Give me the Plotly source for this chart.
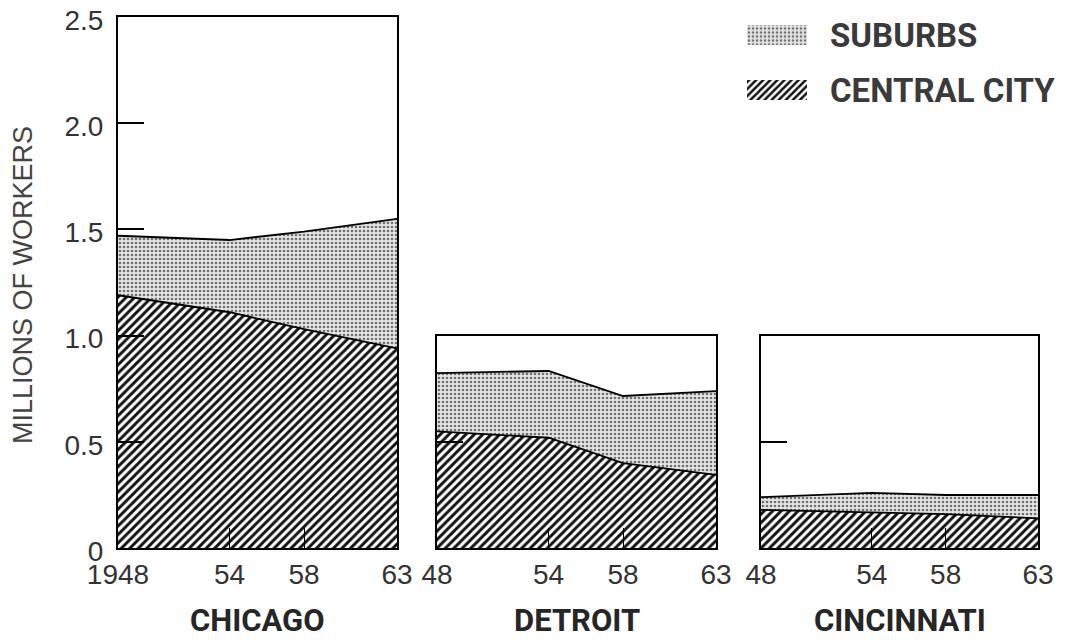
import plotly.graph_objects as go

years = [1948, 1954, 1958, 1963]
chicago_central = [1.19, 1.11, 1.03, 0.94]
chicago_suburbs = [0.28, 0.34, 0.46, 0.61]
detroit_central = [0.55, 0.52, 0.40, 0.345]
detroit_suburbs = [0.275, 0.315, 0.317, 0.395]
cincinnati_central = [0.18, 0.17, 0.16, 0.14]
cincinnati_suburbs = [0.06, 0.09, 0.09, 0.11]

cities = ["CHICAGO", "DETROIT", "CINCINNATI"]
year_ticktext_first = ["1948", "54", "58", "63"]
year_ticktext_other = ["48", "54", "58", "63"]
y_tickvals = [0, 0.5, 1.0, 1.5, 2.0, 2.5]
y_ticktext = ["0", "0.5", "1.0", "1.5", "2.0", "2.5"]
legend_labels = ["SUBURBS", "CENTRAL CITY"]

W, H = 1070, 640
OFF = 8  # page body margin
INK = "#262626"
NUM_FONT = dict(family="Liberation Sans, Arial, sans-serif", size=28, color="#333333")
BOLD_FONT = "Roboto, Liberation Sans, sans-serif"

hatch = dict(shape="/", fgcolor="#111111", bgcolor="white", size=6, solidity=0.48)
stipple = dict(shape=".", fgcolor="#707070", bgcolor="#e6e6e6", size=4, solidity=0.35)

def px_x(a, b):
    return [(a - OFF) / W, (b - OFF) / W]

def px_y(top, bottom):
    return [1 - (bottom - OFF) / H, 1 - (top - OFF) / H]

panels = [
    (chicago_central, chicago_suburbs, px_x(118, 397), px_y(17, 548), 2.5),
    (detroit_central, detroit_suburbs, px_x(437, 716), px_y(336, 548), 1.0),
    (cincinnati_central, cincinnati_suburbs, px_x(761, 1038), px_y(336, 548), 1.0),
]

fig = go.Figure()
layout = {}
for i, (central, suburbs, xd, yd, ymax) in enumerate(panels):
    n = "" if i == 0 else str(i + 1)
    xa, ya = "x" + n, "y" + n
    fig.add_trace(go.Scatter(
        x=years, y=central, xaxis=xa, yaxis=ya, mode="lines",
        stackgroup="s" + str(i), line=dict(color="black", width=1.8),
        fillpattern=hatch, fillcolor="white", showlegend=False, name="CENTRAL CITY"))
    fig.add_trace(go.Scatter(
        x=years, y=suburbs, xaxis=xa, yaxis=ya, mode="lines",
        stackgroup="s" + str(i), line=dict(color="black", width=1.8),
        fillpattern=stipple, fillcolor="#e6e6e6", showlegend=False, name="SUBURBS"))
    layout["xaxis" + n] = dict(
        domain=xd, range=[1948, 1963], anchor=ya, automargin=False,
        tickvals=years,
        ticktext=year_ticktext_first if i == 0 else year_ticktext_other,
        ticks="inside", ticklen=20, tickwidth=1.3, tickcolor="black",
        showline=True, mirror=True, linecolor="black", linewidth=2,
        showgrid=False, zeroline=False, tickfont=NUM_FONT, ticklabelstandoff=0,
        ticklabeloverflow="allow")
    if i == 0:
        yticks = dict(tickvals=y_tickvals, ticktext=y_ticktext, showticklabels=True)
    else:
        yticks = dict(tickvals=[0.5], showticklabels=False)
    layout["yaxis" + n] = dict(
        domain=yd, range=[0, ymax], anchor=xa, automargin=False,
        ticks="inside", ticklen=26, tickwidth=1.5, tickcolor="black",
        showline=True, mirror=True, linecolor="black", linewidth=2,
        showgrid=False, zeroline=False, tickfont=NUM_FONT, ticklabelstandoff=7,
        ticklabelshift=3, ticklabeloverflow="allow", **yticks)

# legend keys drawn as patterned bars on their own small axis
fig.add_trace(go.Bar(
    x=[1, 1], y=legend_labels, orientation="h", xaxis="x4", yaxis="y4",
    width=0.36, showlegend=False, hoverinfo="skip",
    marker=dict(color="white", line=dict(width=0),
                pattern=dict(shape=[".", "/"], fgcolor=["#707070", "#111111"],
                             bgcolor=["#e6e6e6", "white"], size=[4, 5],
                             solidity=[0.35, 0.5]))))
layout["xaxis4"] = dict(domain=px_x(747, 807), range=[0, 1], anchor="y4",
                        visible=False, fixedrange=True, automargin=False)
layout["yaxis4"] = dict(domain=px_y(18.5, 106.5), range=[1.3, -0.3], anchor="x4",
                        side="right", showline=False, showgrid=False, zeroline=False,
                        ticks="", ticklabelstandoff=22, automargin=False,
                        ticklabeloverflow="allow",
                        tickfont=dict(family=BOLD_FONT, size=33, color="#3a3a3a", weight=700))

annotations = [
    dict(text="MILLIONS OF WORKERS", x=(23 - OFF) / W, y=1 - (285 - OFF) / H,
         xref="paper", yref="paper",
         textangle=-90, showarrow=False, xanchor="center", yanchor="middle",
         font=dict(family="Liberation Sans, Arial, sans-serif", size=27, color="#444444"))
]
for i, city in enumerate(cities):
    n = "" if i == 0 else str(i + 1)
    annotations.append(dict(
        text=city, x=0.5, y=1 - (620 - OFF) / H, xref="x" + n + " domain", yref="paper",
        showarrow=False, xanchor="center", yanchor="middle",
        font=dict(family=BOLD_FONT, size=31, color=INK, weight=700)))

fig.update_layout(
    template="none",
    width=W, height=H, margin=dict(l=0, r=0, t=0, b=0, pad=0),
    paper_bgcolor="white", plot_bgcolor="white",
    annotations=annotations, **layout)

fig.write_html("out.html")
